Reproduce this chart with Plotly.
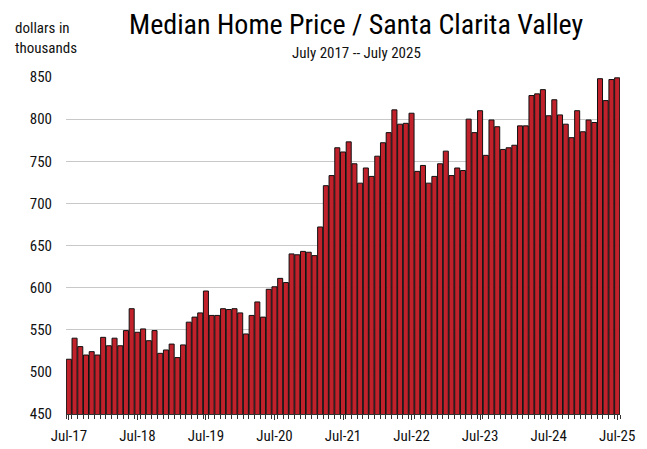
import plotly.graph_objects as go

months = ["Jul", "Aug", "Sep", "Oct", "Nov", "Dec", "Jan", "Feb", "Mar", "Apr", "May", "Jun"]
categories = []
for i in range(97):
    m = months[i % 12]
    yr = 17 + (i + 6) // 12
    categories.append(f"{m}-{yr:02d}")

prices = [
    515, 540, 530, 520, 524, 520, 541, 531, 540, 531, 549, 575,
    547, 551, 537, 549, 522, 526, 533, 517, 532, 559, 565, 570,
    596, 567, 567, 575, 574, 575, 570, 545, 567, 583, 565, 598,
    601, 611, 606, 640, 639, 643, 642, 638, 672, 721, 733, 766,
    761, 773, 747, 724, 742, 732, 756, 772, 784, 811, 794, 795,
    807, 738, 745, 724, 732, 747, 762, 733, 742, 739, 800, 784,
    810, 757, 799, 791, 764, 766, 769, 792, 792, 828, 830, 835,
    804, 823, 805, 794, 778, 810, 785, 799, 796, 848, 822, 847,
    849,
]

y_ticks = [450, 500, 550, 600, 650, 700, 750, 800, 850]
x_label_idx = [i for i in range(97) if i % 12 == 0]
x_label_text = [categories[i] for i in x_label_idx]

FONT = "Roboto Condensed, DejaVu Sans Condensed, sans-serif"

fig = go.Figure(
    go.Bar(
        x=list(range(97)),
        y=prices,
        marker=dict(color="#C0212B", line=dict(color="#111111", width=1)),
        hovertext=categories,
    )
)

fig.update_layout(
    width=647,
    height=449,
    margin=dict(l=58, r=35, t=69, b=43),
    paper_bgcolor="white",
    plot_bgcolor="white",
    bargap=0.12,
    showlegend=False,
    font=dict(family=FONT, color="#111111", size=15),
    annotations=[
        dict(text="Median Home Price / Santa Clarita Valley", xref="paper", yref="paper",
             x=0.5235, y=1.155, xanchor="center", yanchor="middle", showarrow=False,
             font=dict(family=FONT, size=28, color="#000000")),
        dict(text="July 2017 -- July 2025", xref="paper", yref="paper",
             x=0.5235, y=1.071, xanchor="center", yanchor="middle", showarrow=False,
             font=dict(family=FONT, size=15, color="#111111")),
        dict(text="dollars in<br>thousands", xref="paper", yref="paper",
             x=-0.095, y=1.116, xanchor="left", yanchor="middle", showarrow=False,
             align="left", font=dict(family=FONT, size=15, color="#111111")),
    ],
)

fig.update_xaxes(
    range=[-0.5, 96.5],
    tickmode="array",
    tickvals=x_label_idx,
    ticktext=x_label_text,
    ticks="outside",
    ticklen=5,
    tickcolor="#333333",
    showgrid=False,
    showline=True,
    linecolor="#333333",
    linewidth=1,
    tickfont=dict(family=FONT, size=15),
    ticklabelstandoff=3,
    minor=dict(tickmode="array", tickvals=[i - 0.5 for i in range(98)],
               ticks="outside", ticklen=4, tickcolor="#333333", showgrid=False),
    zeroline=False,
)

fig.update_yaxes(
    range=[450, 850],
    tickmode="array",
    tickvals=y_ticks,
    ticks="",
    showgrid=True,
    gridcolor="#C8C8C8",
    gridwidth=1,
    showline=False,
    zeroline=False,
    tickfont=dict(family=FONT, size=15),
    ticklabelstandoff=13,
)

fig.write_html("out.html")
